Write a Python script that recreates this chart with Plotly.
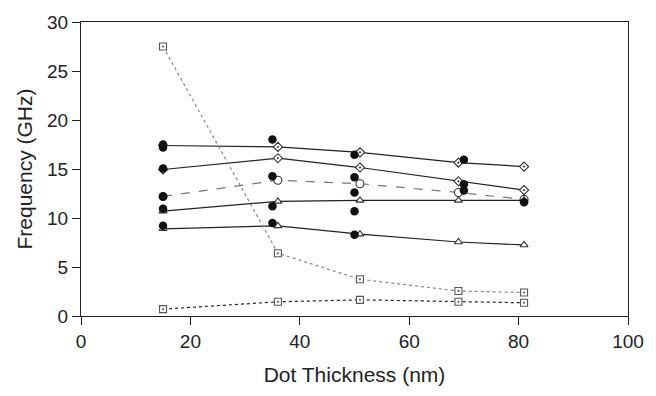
import plotly.graph_objects as go

thickness = [15, 36, 51, 69, 81]

mode_a = [17.4, 17.25, 16.7, 15.65, 15.25]   # diamonds, solid
mode_b = [14.95, 16.1, 15.15, 13.75, 12.85]  # diamonds, solid
mode_c = [12.2, 13.85, 13.5, 12.6, 11.9]     # open circles, dashed
mode_d = [10.7, 11.7, 11.8, 11.8, 11.8]      # triangles, solid
mode_e = [8.9, 9.2, 8.35, 7.55, 7.25]        # triangles, solid
mode_f = [27.5, 6.4, 3.75, 2.55, 2.4]        # squares, gray dotted
mode_g = [0.7, 1.45, 1.65, 1.45, 1.35]       # squares, black dotted

exp_x = [15, 15, 15, 15, 15, 15,
         35, 35, 35, 35,
         50, 50, 50, 50, 50,
         70, 70, 70, 81]
exp_y = [17.5, 17.2, 15.05, 12.2, 10.95, 9.2,
         18.0, 14.25, 11.2, 9.5,
         16.45, 14.15, 12.6, 10.7, 8.3,
         15.95, 13.45, 12.8, 11.6]

x_ticks = [0, 20, 40, 60, 80, 100]
y_ticks = [0, 5, 10, 15, 20, 25, 30]

FONT = "Liberation Sans, Arial, Helvetica, sans-serif"

fig = go.Figure()

def add_series(y, symbol, color, dash, mcolor="#333333", width=1.2, size=7):
    fig.add_trace(go.Scatter(
        x=thickness, y=y, mode="lines+markers",
        line=dict(color=color, width=width, dash=dash),
        marker=dict(symbol=symbol, size=size, color="white",
                    line=dict(color=mcolor, width=1.1)),
        showlegend=False, cliponaxis=False))

add_series(mode_a, "diamond-dot", "#222222", "solid")
add_series(mode_b, "diamond-dot", "#222222", "solid")
add_series(mode_c, "circle", "#777777", "dash", size=8)
add_series(mode_d, "triangle-up", "#222222", "solid")
add_series(mode_e, "triangle-up", "#222222", "solid")
add_series(mode_f, "square-dot", "#888888", "dot", mcolor="#555555")
add_series(mode_g, "square-dot", "#222222", "dot", mcolor="#555555")

fig.add_trace(go.Scatter(
    x=exp_x, y=exp_y, mode="markers",
    marker=dict(symbol="circle", size=8.5, color="#111111"),
    showlegend=False, cliponaxis=False))

axis_common = dict(
    showgrid=False, zeroline=False, showline=True, linecolor="#222222",
    linewidth=1.3, mirror=True, ticks="outside", ticklen=8,
    tickcolor="#222222", tickwidth=1.2,
    tickfont=dict(family=FONT, size=19, color="#222222"),
)

fig.update_xaxes(range=[0, 100], tickvals=x_ticks,
                 title=dict(text="Dot Thickness (nm)", standoff=16,
                            font=dict(family=FONT, size=21, color="#222222")),
                 **axis_common)
fig.update_yaxes(range=[0, 30], tickvals=y_ticks,
                 title=dict(text="Frequency (GHz)", standoff=8,
                            font=dict(family=FONT, size=21, color="#222222")),
                 **axis_common)

fig.update_layout(
    width=656, height=396,
    margin=dict(l=81, r=19, t=15, b=80),
    plot_bgcolor="white", paper_bgcolor="white",
)

fig.write_html("out.html")
